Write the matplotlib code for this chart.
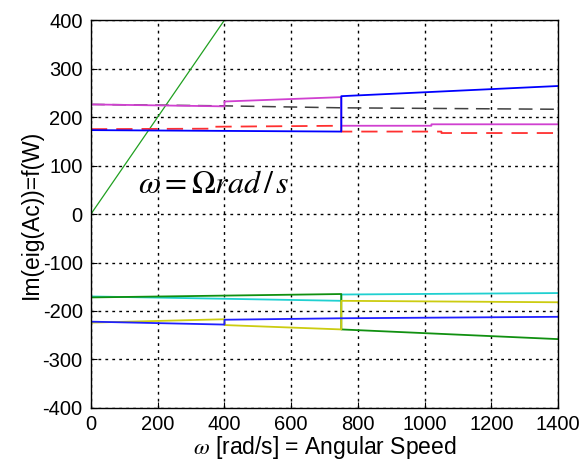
import matplotlib.pyplot as plt

plt.rcParams['font.family'] = ['Liberation Sans', 'DejaVu Sans']
plt.rcParams['mathtext.fontset'] = 'stix'
plt.rcParams['axes.unicode_minus'] = False

# omega = Omega reference line
w_ref = [0, 400]
v_ref = [0, 400]

# upper branch
w_mag = [0, 400, 400, 750, 750, 1020, 1020, 1400]
v_mag = [226, 222, 232, 241, 182, 182, 185, 185]

w_blk = [0, 400, 750, 1400]
v_blk = [226, 223, 219, 216]

w_blu1 = [0, 750, 750, 1400]
v_blu1 = [173, 170, 243, 264]

w_red = [0, 370, 370, 750, 750, 1050, 1050, 1400]
v_red = [175, 176, 180, 182, 170, 170, 167, 167]

# lower branch
w_cya = [0, 750, 750, 1400]
v_cya = [-170, -179, -166, -163]

w_grn = [0, 750, 750, 1400]
v_grn = [-172, -165, -238, -258]

w_yel = [0, 400, 400, 750, 750, 1400]
v_yel = [-224, -217, -229, -238, -179, -182]

w_blu2 = [0, 400, 400, 750, 1400]
v_blu2 = [-222, -228, -218, -215, -212]

xticks = [0, 200, 400, 600, 800, 1000, 1200, 1400]
yticks = [-400, -300, -200, -100, 0, 100, 200, 300, 400]

fig = plt.figure(figsize=(5.87, 4.66), dpi=100)
ax = fig.add_axes([0.155, 0.1245, 0.796, 0.8325])

lw = 1.3
ax.plot(w_ref, v_ref, color='#20a020', lw=0.9)
ax.plot(w_blk, v_blk, color='#404040', lw=1.1, linestyle=(0, (9, 5)))
ax.plot(w_mag, v_mag, color='#d040d0', lw=lw)
ax.plot(w_red, v_red, color='#ff3030', lw=lw, linestyle=(0, (9, 5)))
ax.plot(w_blu1, v_blu1, color='#0000ff', lw=lw)
ax.plot(w_cya, v_cya, color='#20d0d0', lw=lw)
ax.plot(w_grn, v_grn, color='#109010', lw=lw)
ax.plot(w_yel, v_yel, color='#cccc10', lw=lw)
ax.plot(w_blu2, v_blu2, color='#2020ff', lw=lw)

ax.set_xlim(0, 1400)
ax.set_ylim(-400, 400)
ax.set_xticks(xticks)
ax.set_yticks(yticks)
ax.tick_params(direction='in', length=4, labelsize=14.5)
ax.tick_params(axis='x', pad=5)
ax.tick_params(axis='y', pad=6)
ax.grid(True, color='black', linestyle=(0, (2, 3)), lw=1.0)
for s in ax.spines.values():
    s.set_linewidth(1.0)

ax.text(140, 60, r'$\omega = \Omega rad\,/\,s$', fontsize=23, va='center')

ax.set_xlabel(r'$\omega$ [rad/s] = Angular Speed', fontsize=16.5, labelpad=0)
ax.set_ylabel('Im(eig(Ac))=f(W)', fontsize=16.5, labelpad=0)

fig.savefig('out.png', dpi=100)
